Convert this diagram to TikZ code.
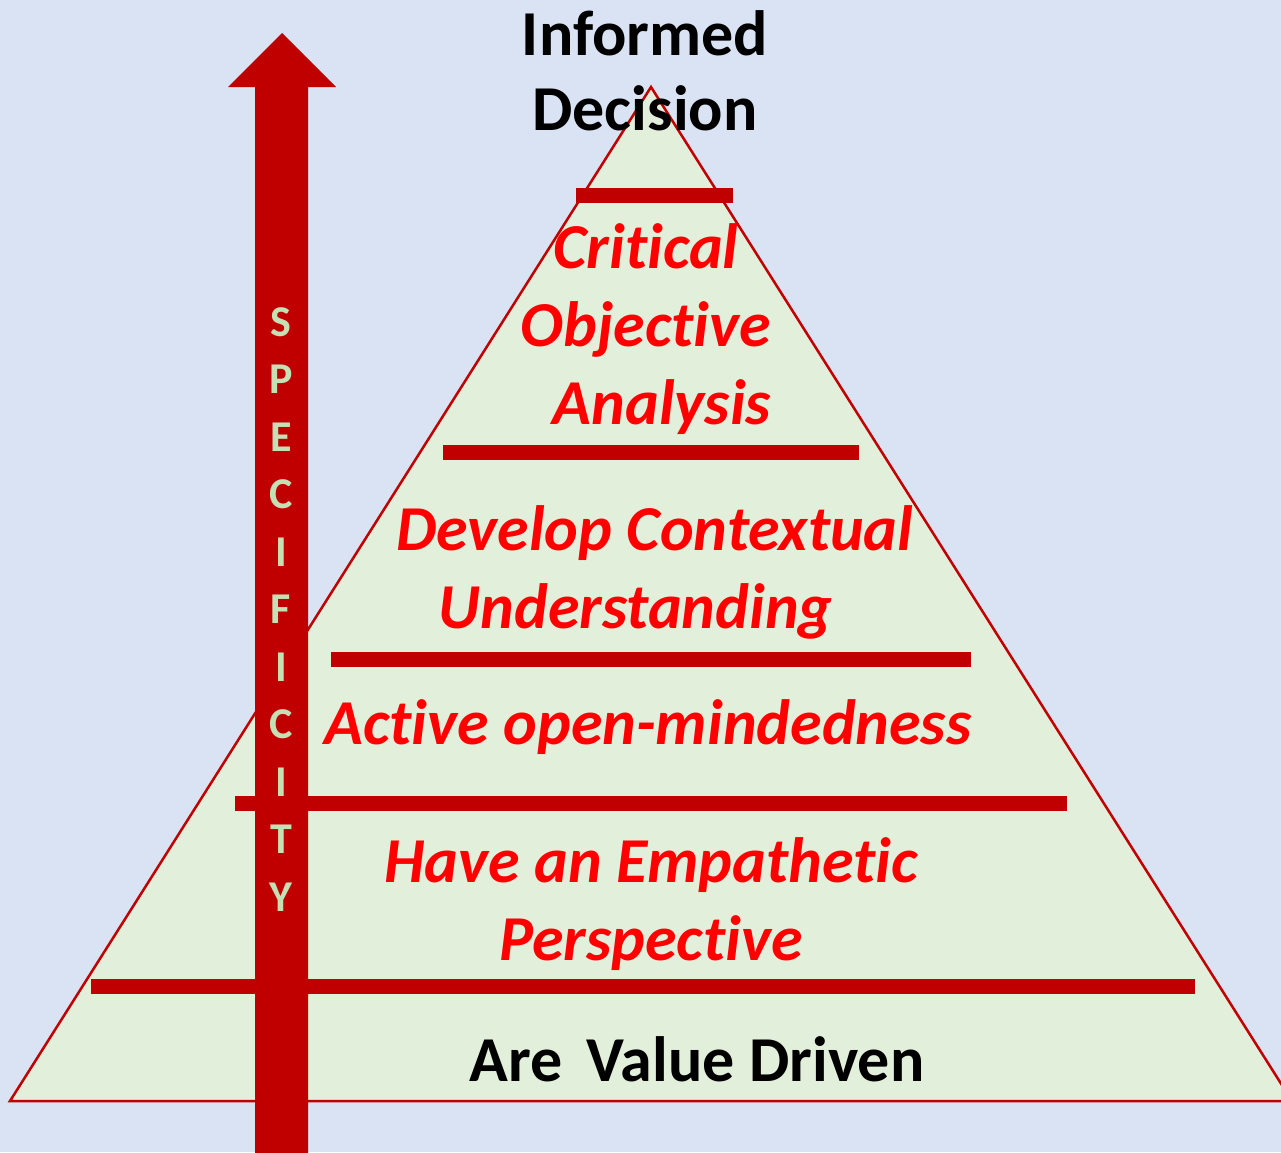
\documentclass[tikz,border=0pt]{standalone}
\usepackage{fontspec}
\setmainfont[Ligatures={NoCommon}]{Carlito}
\definecolor{bgblue}{HTML}{DAE3F3}
\definecolor{pyrfill}{HTML}{E2EFDA}
\definecolor{darkred}{HTML}{C00000}
\definecolor{txtred}{HTML}{FF0000}
\definecolor{lettergreen}{HTML}{C5E0B4}
\begin{document}
\begin{tikzpicture}[x=1pt,y=-1pt,
  bar/.style={fill=darkred,draw=none},
  blacktxt/.style={font=\fontsize{64}{75}\selectfont\bfseries,text=black,align=center,inner sep=0pt},
  redtxt/.style={font=\fontsize{64}{78}\selectfont\bfseries\itshape,text=txtred,align=center,inner sep=0pt},
  lettertxt/.style={font=\fontsize{44}{44}\selectfont\bfseries,text=lettergreen,inner sep=0pt}]
\path[use as bounding box,fill=bgblue] (0,0) rectangle (1281,1152);
\begin{scope}
\clip (0,0) rectangle (1281,1152);
% pyramid
\draw[fill=pyrfill,draw=darkred,line width=2.5pt,line join=miter] (10,1101) -- (651,87) -- (1292,1101) -- cycle;
% bars
\fill[bar] (576,188) rectangle (733,203);
\fill[bar] (443,445) rectangle (859,460);
\fill[bar] (331,652) rectangle (971,667);
\fill[bar] (235,796) rectangle (1067,811);
\fill[bar] (91,979) rectangle (1195,994);
% texts
\node[blacktxt] (title) at (645,71) {Informed\\Decision};
\node[redtxt] (crit) at (646,329) {Critical\\Objective\\\hspace*{0.5em}Analysis};
\node[redtxt] (dev) at (655,572) {Develop Contextual\\Understanding\hspace*{0.6em}};
\node[redtxt] (act) at (648,727) {Active open-mindedness};
\node[redtxt] (emp) at (651,904) {Have an Empathetic\\Perspective};
\node[blacktxt] (val) at (697,1059) {Are\hspace{0.15em} Value Driven};
% arrow
\fill[darkred] (255,1160) -- (255,87) -- (228,87) -- (282,33) -- (336,87) -- (308,87) -- (308,1160) -- cycle;
\foreach \l [count=\i from 0] in {S,P,E,C,I,F,I,C,I,T,Y}
  \node[lettertxt] (let\i) at (281,{322+57.5*\i}) {\l};
\end{scope}
\end{tikzpicture}
\end{document}
